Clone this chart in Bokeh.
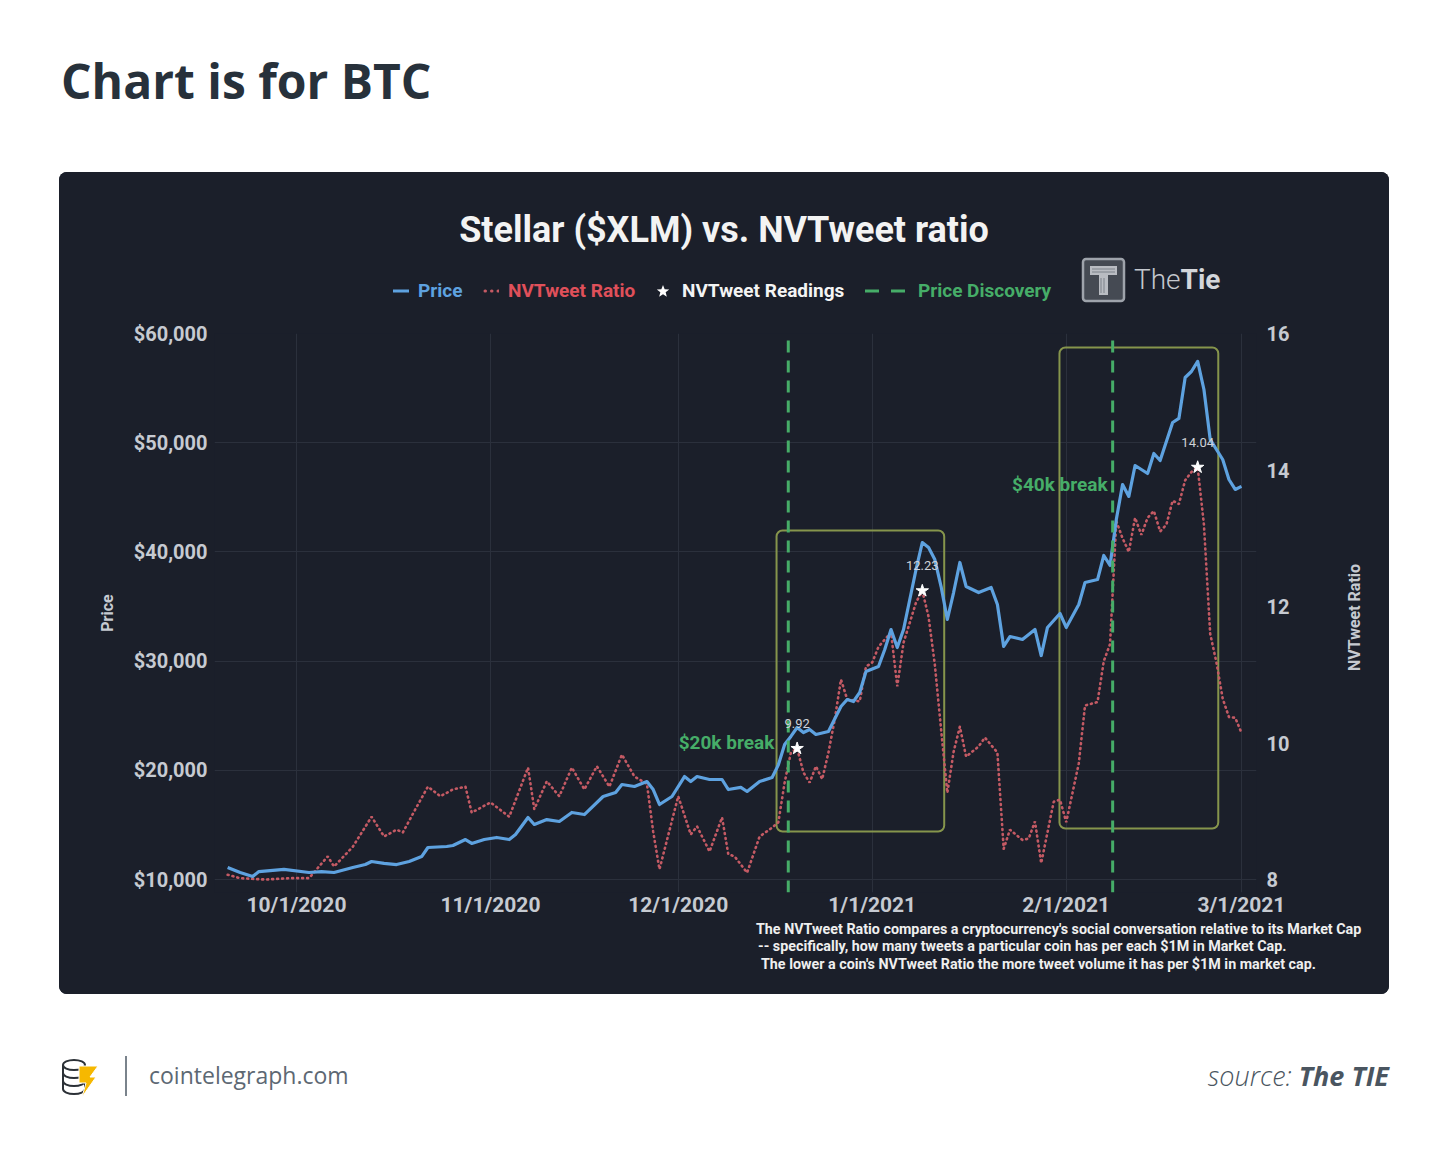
import math
import pandas as pd
from bokeh.plotting import figure
from bokeh.models import (Range1d, LinearAxis, FixedTicker, CustomJSTickFormatter,
                          NumeralTickFormatter, Div, Label)
from bokeh.layouts import column
from bokeh.embed import file_html
from bokeh.resources import INLINE
from bokeh.core.properties import value

# ---------------- data ----------------
price_dates = [
    "2020-09-20", "2020-09-22", "2020-09-24", "2020-09-25", "2020-09-29", "2020-10-03", "2020-10-05",
    "2020-10-07", "2020-10-10", "2020-10-12", "2020-10-13", "2020-10-15", "2020-10-17", "2020-10-19",
    "2020-10-21", "2020-10-22", "2020-10-25", "2020-10-26", "2020-10-28", "2020-10-29", "2020-10-31",
    "2020-11-02", "2020-11-04", "2020-11-05", "2020-11-07", "2020-11-08", "2020-11-10", "2020-11-12",
    "2020-11-14", "2020-11-16", "2020-11-19", "2020-11-21", "2020-11-22", "2020-11-24", "2020-11-26",
    "2020-11-27", "2020-11-28", "2020-11-30", "2020-12-02", "2020-12-03", "2020-12-04", "2020-12-06",
    "2020-12-08", "2020-12-09", "2020-12-11", "2020-12-12", "2020-12-14", "2020-12-16", "2020-12-17",
    "2020-12-18", "2020-12-19", "2020-12-20", "2020-12-21", "2020-12-22", "2020-12-23", "2020-12-25",
    "2020-12-27", "2020-12-28", "2020-12-29", "2020-12-30", "2020-12-31", "2021-01-02", "2021-01-03",
    "2021-01-04", "2021-01-05", "2021-01-06", "2021-01-07", "2021-01-08", "2021-01-09", "2021-01-10",
    "2021-01-11", "2021-01-12", "2021-01-13", "2021-01-14", "2021-01-15", "2021-01-16", "2021-01-18",
    "2021-01-20", "2021-01-21", "2021-01-22", "2021-01-23", "2021-01-25", "2021-01-26", "2021-01-27",
    "2021-01-28", "2021-01-29", "2021-01-31", "2021-02-01", "2021-02-03", "2021-02-04", "2021-02-06",
    "2021-02-07", "2021-02-08", "2021-02-09", "2021-02-10", "2021-02-11", "2021-02-12", "2021-02-14",
    "2021-02-15", "2021-02-16", "2021-02-18", "2021-02-19", "2021-02-20", "2021-02-21", "2021-02-22",
    "2021-02-23", "2021-02-24", "2021-02-25", "2021-02-26", "2021-02-27", "2021-02-28", "2021-03-01",
]
price_values = [
    11100, 10640, 10270, 10730, 10920, 10640, 10730,
    10640, 11100, 11370, 11650, 11470, 11370, 11650,
    12100, 12930, 13020, 13110, 13660, 13300, 13660,
    13850, 13660, 14120, 15680, 15040, 15490, 15310,
    16140, 15950, 17600, 17970, 18700, 18520, 18970,
    18240, 16870, 17600, 19430, 18970, 19430, 19160,
    19160, 18240, 18430, 18060, 18970, 19340, 20500,
    22360, 23100, 23920, 23460, 23740, 23280, 23550,
    25840, 26480, 26300, 27130, 29050, 29510, 31060,
    32890, 31240, 32890, 35640, 38390, 40860, 40400,
    39300, 36830, 33810, 36280, 39030, 36830, 36280,
    36740, 35180, 31340, 32250, 31980, 32440, 32900,
    30510, 33080, 34360, 33080, 35180, 37200, 37470,
    39670, 38760, 42970, 46170, 45080, 47910, 47180,
    49010, 48370, 51850, 52220, 55970, 56520, 57440,
    54870, 50300, 49380, 48460, 46630, 45720, 46000,
]

ratio_dates = [
    "2020-09-20", "2020-09-22", "2020-09-26", "2020-09-30", "2020-10-03", "2020-10-06", "2020-10-07",
    "2020-10-10", "2020-10-13", "2020-10-15", "2020-10-17", "2020-10-18", "2020-10-20", "2020-10-22",
    "2020-10-24", "2020-10-26", "2020-10-28", "2020-10-29", "2020-11-01", "2020-11-04", "2020-11-07",
    "2020-11-08", "2020-11-10", "2020-11-12", "2020-11-14", "2020-11-16", "2020-11-18", "2020-11-20",
    "2020-11-22", "2020-11-24", "2020-11-26", "2020-11-27", "2020-11-28", "2020-12-01", "2020-12-03",
    "2020-12-04", "2020-12-06", "2020-12-08", "2020-12-09", "2020-12-10", "2020-12-12", "2020-12-14",
    "2020-12-16", "2020-12-17", "2020-12-18", "2020-12-19", "2020-12-20", "2020-12-21", "2020-12-22",
    "2020-12-23", "2020-12-24", "2020-12-25", "2020-12-26", "2020-12-27", "2020-12-28", "2020-12-30",
    "2020-12-31", "2021-01-01", "2021-01-02", "2021-01-04", "2021-01-05", "2021-01-06", "2021-01-08",
    "2021-01-09", "2021-01-10", "2021-01-11", "2021-01-12", "2021-01-13", "2021-01-14", "2021-01-15",
    "2021-01-16", "2021-01-18", "2021-01-19", "2021-01-21", "2021-01-22", "2021-01-23", "2021-01-25",
    "2021-01-26", "2021-01-27", "2021-01-28", "2021-01-30", "2021-01-31", "2021-02-01", "2021-02-03",
    "2021-02-04", "2021-02-06", "2021-02-07", "2021-02-08", "2021-02-09", "2021-02-10", "2021-02-11",
    "2021-02-12", "2021-02-13", "2021-02-14", "2021-02-15", "2021-02-16", "2021-02-17", "2021-02-18",
    "2021-02-19", "2021-02-20", "2021-02-21", "2021-02-22", "2021-02-23", "2021-02-24", "2021-02-25",
    "2021-02-26", "2021-02-27", "2021-02-28", "2021-03-01",
]
ratio_values = [
    8.07, 8.02, 8.00, 8.02, 8.02, 8.34, 8.19,
    8.48, 8.92, 8.63, 8.73, 8.69, 9.03, 9.36,
    9.22, 9.32, 9.36, 8.98, 9.13, 8.92, 9.64,
    9.03, 9.44, 9.22, 9.64, 9.32, 9.66, 9.36,
    9.83, 9.51, 9.40, 8.70, 8.15, 9.22, 8.66,
    8.78, 8.41, 8.91, 8.37, 8.34, 8.10, 8.63,
    8.76, 8.84, 9.42, 9.86, 9.92, 9.57, 9.42,
    9.66, 9.47, 9.86, 10.34, 10.93, 10.64, 10.61,
    11.12, 11.18, 11.41, 11.62, 10.83, 11.47, 12.06,
    12.23, 11.85, 11.15, 10.20, 9.27, 9.87, 10.24,
    9.80, 9.95, 10.08, 9.86, 8.45, 8.73, 8.58,
    8.60, 8.85, 8.24, 9.14, 9.17, 8.84, 9.70,
    10.55, 10.60, 11.20, 11.45, 13.25, 13.00, 12.80,
    13.30, 13.05, 13.30, 13.40, 13.10, 13.20, 13.55,
    13.50, 13.85, 13.97, 14.04, 13.20, 11.60, 11.18,
    10.65, 10.38, 10.37, 10.15,
]

reading_dates = ["2020-12-20", "2021-01-09", "2021-02-22"]
reading_values = [9.92, 12.23, 14.04]
reading_labels = ["9.92", "12.23", "14.04"]

discovery_dates = ["2020-12-18 14:00", "2021-02-08 10:00"]
break_labels = ["$20k break", "$40k break"]
break_label_prices = [22550, 46170]

box_starts = ["2020-12-16 17:00", "2021-01-30 22:00"]
box_ends = ["2021-01-12 12:00", "2021-02-25 07:00"]
box_bottoms = [14400, 14670]
box_tops = [41960, 58720]

x_tick_dates = ["2020-10-01", "2020-11-01", "2020-12-01", "2021-01-01", "2021-02-01", "2021-03-01"]
price_ticks = [10000, 20000, 30000, 40000, 50000, 60000]
ratio_ticks = [8, 10, 12, 14, 16]

chart_title = "Stellar ($XLM) vs. NVTweet ratio"
legend_labels = ["Price", "NVTweet Ratio", "NVTweet Readings", "Price Discovery"]
footnote_lines = [
    "The NVTweet Ratio compares a cryptocurrency's social conversation relative to its Market Cap",
    "-- specifically, how many tweets a particular coin has per each $1M in Market Cap.",
    "The lower a coin's NVTweet Ratio the more tweet volume it has per $1M in market cap.",
]

# ---------------- styling ----------------
BG = "#1b1f2a"
GRID = "#2b303c"
TICK = "#c6cad1"
BLUE = "#5ea2e0"
RED = "#c45a64"
RED_TXT = "#e0505a"
GREEN = "#46ad68"
BOX = "#86954c"
FONT = "Roboto"
PANEL_W = 1330


def ts(lst):
    return pd.to_datetime(lst)


origin = pd.Timestamp("2020-10-01")
x_range = Range1d(start=origin - pd.Timedelta(days=13.1), end=origin + pd.Timedelta(days=153.4))
y_range = Range1d(start=8810, end=60000)

p = figure(width=PANEL_W, height=604, x_axis_type="datetime", x_range=x_range, y_range=y_range,
           output_backend="svg", toolbar_location=None,
           min_border_left=155, min_border_right=133, min_border_top=16, min_border_bottom=29,
           background_fill_color=BG, border_fill_color=None, outline_line_color=None, margin=0)
p.styles = {"background-color": BG}
p.extra_y_ranges = {"ratio": Range1d(start=7.81, end=16)}

# axes
xa = p.xaxis[0]
xa.ticker = FixedTicker(ticks=[pd.Timestamp(d).value / 1e6 for d in x_tick_dates])
xa.formatter = CustomJSTickFormatter(code="""
const d = new Date(tick);
return (d.getUTCMonth() + 1) + "/" + d.getUTCDate() + "/" + d.getUTCFullYear();
""")
ya = p.yaxis[0]
ya.ticker = FixedTicker(ticks=price_ticks)
ya.formatter = NumeralTickFormatter(format="$0,0")
ra = LinearAxis(y_range_name="ratio", ticker=FixedTicker(ticks=ratio_ticks))
p.add_layout(ra, "right")

for ax, size, standoff in ((xa, "21px", 0), (ya, "20px", 7), (ra, "20px", 10)):
    ax.axis_line_color = None
    ax.major_tick_line_color = None
    ax.minor_tick_line_color = None
    ax.major_tick_out = 0
    ax.major_tick_in = 0
    ax.minor_tick_out = 0
    ax.minor_tick_in = 0
    ax.major_label_text_font = FONT
    ax.major_label_text_font_size = size
    ax.major_label_text_font_style = "bold"
    ax.major_label_text_color = TICK
    ax.major_label_standoff = standoff

ya.axis_label = "Price"
ya.axis_label_text_font = FONT
ya.axis_label_text_font_size = "16px"
ya.axis_label_text_font_style = "bold"
ya.axis_label_text_color = TICK
ya.axis_label_standoff = 14

# right-hand axis title, reading bottom to top like the left one
p.add_layout(Label(x=62, y=275, x_units="screen", y_units="screen", text="NVTweet Ratio",
                   angle=math.pi / 2, text_align="center", text_baseline="middle",
                   text_font=FONT, text_font_size="16px", text_font_style="bold",
                   text_color=TICK), "right")

p.xgrid.grid_line_color = GRID
p.ygrid.grid_line_color = GRID

# boxes
p.quad(left=ts(box_starts), right=ts(box_ends), bottom=box_bottoms, top=box_tops,
       fill_alpha=0, line_color=BOX, line_width=2, border_radius=6)

# series
p.line(ts(ratio_dates), ratio_values, y_range_name="ratio", line_color=RED,
       line_width=2.6, line_dash="1 4", line_cap="round")
p.line(ts(price_dates), price_values, line_color=BLUE, line_width=3.2, line_join="round")

# price discovery lines
n = len(discovery_dates)
p.segment(x0=ts(discovery_dates), y0=[y_range.start] * n, x1=ts(discovery_dates),
          y1=[y_range.end] * n, line_color=GREEN, line_width=3, line_dash="12 8")

# readings
p.scatter(ts(reading_dates), reading_values, y_range_name="ratio", marker="star",
          size=13, fill_color="white", line_color="white")
p.text(ts(reading_dates), reading_values, text=reading_labels, y_range_name="ratio",
       y_offset=-25, text_align="center", text_baseline="middle",
       text_font=value(FONT), text_font_size="13px", text_color="#cfd2d8")

# break annotations
for i, off in enumerate((-14, -5)):
    p.text(ts([discovery_dates[i]]), [break_label_prices[i]], text=[break_labels[i]],
           x_offset=off, text_align="right", text_baseline="middle",
           text_font=value(FONT), text_font_size="19px", text_font_style="bold",
           text_color=GREEN)

# ---------------- panel top (title, legend, logo) ----------------
def star_points(cx, cy, ro, ri):
    pts = []
    for k in range(10):
        r = ro if k % 2 == 0 else ri
        a = -math.pi / 2 + k * math.pi / 5
        pts.append(f"{cx + r * math.cos(a):.2f},{cy + r * math.sin(a):.2f}")
    return " ".join(pts)


def abs_text(text, left, top, size, color, weight=700, lh=24):
    return (f'<div style="position:absolute; left:{left}px; top:{top}px; font-size:{size}px; '
            f'line-height:{lh}px; font-weight:{weight}; color:{color}; white-space:nowrap;">{text}</div>')


legend_html = (
    f'<svg style="position:absolute; left:334px; top:109px;" width="16" height="20">'
    f'<line x1="0" y1="10" x2="16" y2="10" stroke="{BLUE}" stroke-width="3"/></svg>'
    + abs_text(legend_labels[0], 359, 107, 19, BLUE)
    + f'<svg style="position:absolute; left:424px; top:109px;" width="16" height="20">'
    f'<line x1="2" y1="10" x2="16" y2="10" stroke="{RED}" stroke-width="3" stroke-dasharray="0.5 6" '
    f'stroke-linecap="round"/></svg>'
    + abs_text(legend_labels[1], 449, 107, 19, RED_TXT)
    + f'<svg style="position:absolute; left:597px; top:112px;" width="14" height="14">'
    f'<polygon points="{star_points(7, 7.5, 6.5, 2.8)}" fill="#ffffff"/></svg>'
    + abs_text(legend_labels[2], 623, 107, 19, "#f4f4f4")
    + f'<svg style="position:absolute; left:806px; top:109px;" width="40" height="20">'
    f'<line x1="0" y1="10" x2="40" y2="10" stroke="{GREEN}" stroke-width="3" stroke-dasharray="14 12"/></svg>'
    + abs_text(legend_labels[3], 859, 107, 19, GREEN)
)

logo_html = (
    '<svg style="position:absolute; left:1022px; top:85px;" width="45" height="46">'
    '<rect x="2" y="2" width="41" height="42" rx="3" fill="#454a53" stroke="#9ea3ab" stroke-width="2.5"/>'
    '<path d="M9 9 H36 V18 H27 V38 H18 V18 H9 Z" fill="#b9bcc2"/>'
    '<path d="M11 12 H34 M11 15 H34 M20 21 V36 M23 21 V36" stroke="#7d828a" stroke-width="1"/>'
    '</svg>'
    '<div style="position:absolute; left:1075px; top:91px; font-size:28px; line-height:34px; '
    'color:#d3d6db; white-space:nowrap;"><span style="font-weight:300; color:#c4c8ce;">The</span>'
    '<span style="font-weight:700;">Tie</span></div>'
)

top_div = Div(text=(
    f'<div style="position:relative; width:{PANEL_W}px; height:145px; background:{BG}; '
    f'border-radius:8px 8px 0 0; font-family:{FONT};">'
    f'<div style="position:absolute; left:0; top:36px; width:{PANEL_W}px; text-align:center; '
    f'font-size:36px; line-height:44px; font-weight:700; color:#f3f3f3; white-space:nowrap;">{chart_title}</div>'
    + legend_html + logo_html + '</div>'),
    width=PANEL_W, height=145, margin=0)

foot_lines_html = "".join(
    abs_text(line, left, top, 14.3, "#efefef", 700, 16)
    for line, left, top in zip(footnote_lines, (697, 699, 702), (0, 17, 35))
)
bottom_div = Div(text=(
    f'<div style="position:relative; width:{PANEL_W}px; height:73px; background:{BG}; '
    f'border-radius:0 0 8px 8px; font-family:{FONT};">' + foot_lines_html + '</div>'),
    width=PANEL_W, height=73, margin=0)

panel = column(top_div, p, bottom_div, spacing=0, margin=(0, 0, 0, 59),
               styles={"background-color": BG, "border-radius": "8px"})

# ---------------- page header / footer ----------------
header = Div(text=(
    '<div style="padding:57px 0 0 61px; font-family:\'Open Sans\'; font-weight:700; '
    'font-size:48px; line-height:1; color:#27313b; white-space:nowrap;">Chart is for BTC</div>'),
    width=1440, height=172, margin=0)

logo_svg = (
    '<svg style="position:absolute; left:59px; top:62px;" width="42" height="42" viewBox="0 0 42 42">'
    '<g fill="none" stroke="#2b3036" stroke-width="2">'
    '<ellipse cx="15" cy="9" rx="11" ry="5"/>'
    '<path d="M4 9 V33 A11 5 0 0 0 26 33 V9"/>'
    '<path d="M4 17 A11 5 0 0 0 26 17"/>'
    '<path d="M4 25 A11 5 0 0 0 26 25"/>'
    '</g>'
    '<polygon points="20,10 39,10 31,21 37,21 23,41 27,27 20,27" fill="#f6b800" stroke="#ffffff" stroke-width="1"/>'
    '</svg>'
)
footer = Div(text=(
    '<div style="position:relative; width:1440px; height:154px; font-family:\'Open Sans\';">'
    + logo_svg +
    '<div style="position:absolute; left:125px; top:62px; width:2px; height:40px; background:#7a838c;"></div>'
    '<div style="position:absolute; left:149px; top:66px; font-size:23px; line-height:30px; '
    'font-weight:400; color:#5d6873; white-space:nowrap;">cointelegraph.com</div>'
    '<div style="position:absolute; right:51px; top:65px; font-size:27px; line-height:34px; '
    'font-style:italic; color:#4a5560; white-space:nowrap;">'
    '<span style="font-weight:300;">source:</span> <span style="font-weight:700;">The TIE</span></div>'
    '</div>'),
    width=1440, height=154, margin=0)

layout = column(header, panel, footer, spacing=0)

open("out.html", "w").write(file_html(layout, INLINE))
